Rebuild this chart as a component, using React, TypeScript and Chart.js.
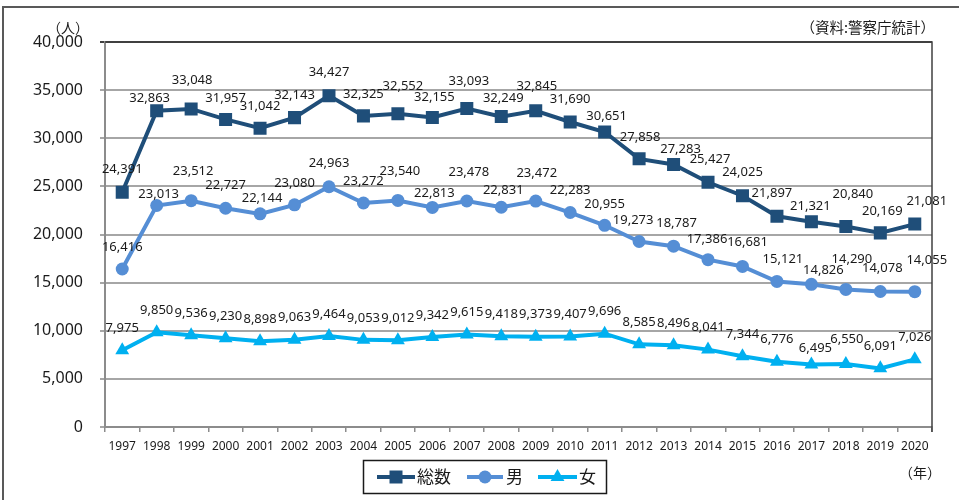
import React, { useEffect, useRef } from 'react';
import { Chart, registerables } from 'chart.js';

Chart.register(...registerables);

const years = ['1997','1998','1999','2000','2001','2002','2003','2004','2005','2006','2007','2008','2009','2010','2011','2012','2013','2014','2015','2016','2017','2018','2019','2020'];
const totalValues = [24391,32863,33048,31957,31042,32143,34427,32325,32552,32155,33093,32249,32845,31690,30651,27858,27283,25427,24025,21897,21321,20840,20169,21081];
const maleValues = [16416,23013,23512,22727,22144,23080,24963,23272,23540,22813,23478,22831,23472,22283,20955,19273,18787,17386,16681,15121,14826,14290,14078,14055];
const femaleValues = [7975,9850,9536,9230,8898,9063,9464,9053,9012,9342,9615,9418,9373,9407,9696,8585,8496,8041,7344,6776,6495,6550,6091,7026];
const seriesNames = ['総数', '男', '女'];
const yTicks = [0, 5000, 10000, 15000, 20000, 25000, 30000, 35000, 40000];

// label placement offsets (dx, dy) relative to each point — layout only
const totalLabelOffsets = [[0,-23],[-7,-12],[1,-29],[0,-21],[0,-22],[0,-22],[0,-23],[0,-22],[5,-27],[2,-20],[2,-27],[2,-18],[1,-25],[0,-23],[2,-16],[1,-22],[7,-15],[2,-23],[0,-23],[-5,-23],[-1,-15],[7,-32],[2,-22],[12,-23]];
const maleLabelOffsets = [[0,-22],[2,-11],[2,-29],[0,-23],[2,-16],[0,-22],[0,-23],[0,-22],[2,-29],[2,-14],[2,-29],[2,-17],[1,-28],[0,-22],[0,-21],[-6,-21],[3,-23],[-1,-20],[5,-24],[6,-22],[12,-14],[6,-30],[2,-23],[12,-31]];
const femaleLabelOffsets = years.map((_, i) => (i === 20 ? [4,-16] : i === 21 ? [1,-25] : [0,-22]));

const COLORS = ['#1F4E79', '#558ED5', '#00B0F0'];
const NUM_FONT = '"Noto Sans", "Liberation Sans", sans-serif';
const CJK_FONT = '"Noto Sans CJK JP", "Noto Sans", sans-serif';

const fmt = (v: number) => v.toLocaleString('en-US');

function drawMarker(ctx: CanvasRenderingContext2D, kind: string, x: number, y: number, color: string) {
  ctx.fillStyle = color;
  ctx.beginPath();
  if (kind === 'rect') {
    ctx.rect(x - 6.5, y - 6.5, 13, 13);
  } else if (kind === 'circle') {
    ctx.arc(x, y, 6.5, 0, Math.PI * 2);
  } else {
    const r = 8;
    ctx.moveTo(x, y - r);
    ctx.lineTo(x + r * 0.866, y + r * 0.5);
    ctx.lineTo(x - r * 0.866, y + r * 0.5);
    ctx.closePath();
  }
  ctx.fill();
}

const decorPlugin = {
  id: 'decor',
  beforeDatasetsDraw(chart: any) {
    const { ctx, chartArea } = chart;
    const { left, right, top, bottom } = chartArea;
    ctx.save();
    ctx.strokeStyle = '#404040';
    ctx.lineWidth = 1.5;
    ctx.beginPath();
    ctx.moveTo(left, top);
    ctx.lineTo(right, top);
    ctx.lineTo(right, bottom + 5);
    ctx.stroke();
    ctx.restore();
  },
  afterDatasetsDraw(chart: any) {
    const { ctx } = chart;
    const offsets = [totalLabelOffsets, maleLabelOffsets, femaleLabelOffsets];
    ctx.save();
    ctx.font = `13px ${NUM_FONT}`;
    ctx.fillStyle = '#1a1a1a';
    ctx.textAlign = 'center';
    ctx.textBaseline = 'middle';
    chart.data.datasets.forEach((ds: any, di: number) => {
      const meta = chart.getDatasetMeta(di);
      meta.data.forEach((pt: any, i: number) => {
        const off = offsets[di][i];
        ctx.fillText(fmt(ds.data[i]), pt.x + off[0], pt.y + off[1]);
      });
    });
    ctx.restore();
  },
  afterDraw(chart: any) {
    const { ctx } = chart;
    ctx.save();
    // outer frame
    ctx.strokeStyle = '#595959';
    ctx.lineWidth = 2;
    ctx.beginPath();
    ctx.moveTo(3, 510);
    ctx.lineTo(3, 7);
    ctx.lineTo(970, 7);
    ctx.stroke();

    // annotations
    ctx.fillStyle = '#1a1a1a';
    ctx.textBaseline = 'middle';
    ctx.font = `14px ${CJK_FONT}`;
    ctx.textAlign = 'center';
    ctx.fillText('（人）', 68, 28);
    ctx.fillText('（年）', 920, 473);
    ctx.textAlign = 'right';
    ctx.font = `14.5px ${CJK_FONT}`;
    ctx.fillText('（資料:警察庁統計）', 935, 27);

    // legend
    ctx.strokeStyle = '#1a1a1a';
    ctx.lineWidth = 1.5;
    ctx.strokeRect(363.5, 460.5, 243, 33);
    const items = [
      { x1: 377, x2: 415, tx: 417, kind: 'rect' },
      { x1: 467, x2: 503, tx: 506, kind: 'circle' },
      { x1: 538, x2: 577, tx: 579, kind: 'triangle' },
    ];
    const ly = 477;
    items.forEach((it, i) => {
      ctx.strokeStyle = COLORS[i];
      ctx.lineWidth = 4;
      ctx.beginPath();
      ctx.moveTo(it.x1, ly);
      ctx.lineTo(it.x2, ly);
      ctx.stroke();
      drawMarker(ctx, it.kind, (it.x1 + it.x2) / 2, ly, COLORS[i]);
      ctx.fillStyle = '#1a1a1a';
      ctx.font = `17px ${CJK_FONT}`;
      ctx.textAlign = 'left';
      ctx.fillText(seriesNames[i], it.tx, ly);
    });
    ctx.restore();
  },
};

export default function App() {
  const ref = useRef<HTMLCanvasElement>(null);
  useEffect(() => {
    const canvas = ref.current;
    if (!canvas) return;
    const chart = new Chart(canvas, {
      type: 'line',
      data: {
        labels: years,
        datasets: [
          {
            label: seriesNames[0],
            data: totalValues,
            borderColor: COLORS[0],
            backgroundColor: COLORS[0],
            borderWidth: 4,
            pointStyle: 'rect',
            pointRadius: 9.2,
            pointBorderWidth: 0,
            tension: 0,
          },
          {
            label: seriesNames[1],
            data: maleValues,
            borderColor: COLORS[1],
            backgroundColor: COLORS[1],
            borderWidth: 4,
            pointStyle: 'circle',
            pointRadius: 6.5,
            pointBorderWidth: 0,
            tension: 0,
          },
          {
            label: seriesNames[2],
            data: femaleValues,
            borderColor: COLORS[2],
            backgroundColor: COLORS[2],
            borderWidth: 4,
            pointStyle: 'triangle',
            pointRadius: 8,
            pointBorderWidth: 0,
            tension: 0,
          },
        ],
      },
      options: {
        animation: false,
        responsive: true,
        maintainAspectRatio: false,
        layout: { padding: { left: 0, right: 27, top: 42, bottom: 0 } },
        plugins: {
          legend: { display: false },
          tooltip: { enabled: false },
        },
        scales: {
          x: {
            offset: true,
            grid: {
              offset: true,
              drawOnChartArea: false,
              tickLength: 5,
              color: '#8c8c8c',
              lineWidth: 1.5,
            },
            border: { color: '#8c8c8c', width: 2 },
            ticks: {
              color: '#1a1a1a',
              font: { family: NUM_FONT, size: 12 },
              padding: 7,
              maxRotation: 0,
              autoSkip: false,
            },
            afterFit(scale: any) {
              scale.height = 73;
            },
          },
          y: {
            min: 0,
            max: 40000,
            afterBuildTicks(scale: any) {
              scale.ticks = yTicks.map((v) => ({ value: v }));
            },
            grid: {
              color: (c: any) => (c.tick && c.tick.value === 40000 ? '#404040' : '#a6a6a6'),
              lineWidth: 2,
              tickLength: 5,
            },
            border: { color: '#8c8c8c', width: 2 },
            ticks: {
              color: '#1a1a1a',
              font: { family: NUM_FONT, size: 16 },
              padding: 17,
              callback: (v: any) => fmt(Number(v)),
            },
            afterFit(scale: any) {
              scale.width = 105;
            },
          },
        },
      },
      plugins: [decorPlugin],
    } as any);
    return () => chart.destroy();
  }, []);
  return (
    <div style={{ position: 'fixed', left: 0, top: 0, width: 959, height: 500, background: '#fff' }}>
      <canvas ref={ref} style={{ display: 'block' }} />
    </div>
  );
}
